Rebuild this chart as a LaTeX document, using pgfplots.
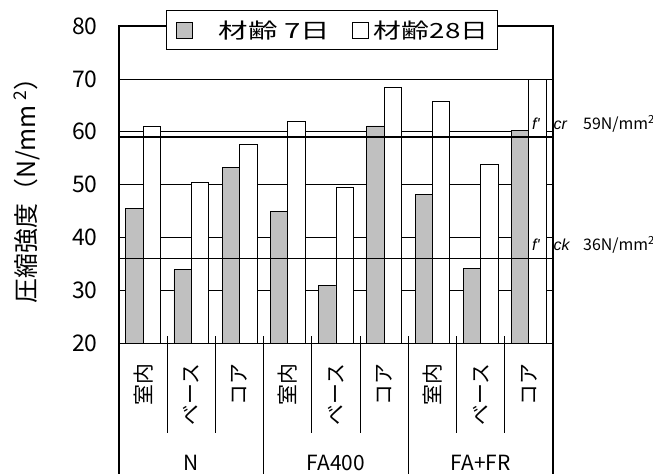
\documentclass[border=0pt]{standalone}
\usepackage{fontspec}
\usepackage{graphicx}
\usepackage{pgfplots}
\usepackage{pgfplotstable}
\pgfplotsset{compat=1.18}
\setmainfont{Noto Sans CJK JP}
\newfontfamily\lsans{Liberation Sans}
\definecolor{barg}{RGB}{192,192,192}

% compressive strength, N/mm^2 (7 days / 28 days)
\pgfplotstableread{
x    d7    d28
0.5  45.5  61.1
1.5  33.9  50.4
2.5  53.2  57.7
3.5  45.0  62.0
4.5  31.0  49.5
5.5  61.1  68.3
6.5  48.1  65.7
7.5  34.2  53.8
8.5  60.3  69.9
}\strength

\pgfplotsset{
  mybar/.style={ybar, bar width=0.36, draw=black, line width=0.8bp,
    legend image code/.code={\draw[##1, line width=0.8bp] (0bp,-8bp) rectangle (16bp,8bp);}},
}

\begin{document}
\begin{tikzpicture}
\begin{axis}[
  at={(0,0)}, anchor=south west,
  scale only axis, width=434bp, height=317.3bp,
  xmin=0, xmax=9, ymin=20, ymax=80,
  clip mode=individual,
  axis line style={black, line width=1.3bp},
  ytick={20,30,...,80},
  ytick pos=left,
  tick align=inside,
  major tick length=9bp,
  y tick style={black, line width=0.7bp},
  ymajorgrids,
  major grid style={black, line width=0.6bp},
  /pgf/number format/assume math mode=true,
  yticklabel style={font=\fontsize{23}{23}\selectfont, xshift=-18bp},
  xtick={0.5,1.5,...,8.5},
  xticklabels={室内,ベース,コア,室内,ベース,コア,室内,ベース,コア},
  x tick style={draw=none},
  xticklabel style={yshift=-17bp, rotate=90, anchor=east, font=\fontsize{21}{21}\selectfont},
  every axis y label/.style={at={(rel axis cs:0,0.5)}, xshift=-92bp, rotate=90, anchor=center},
  ylabel={\fontsize{25}{25}\selectfont 圧縮強度（N/mm\,\textsuperscript{2}）},
  legend columns=2,
  legend style={at={(rel axis cs:0.491,0.9864)}, anchor=center, draw=black,
    line width=0.8bp, fill=white, inner xsep=9bp, inner ysep=10bp,
    font=\fontsize{21}{21}\selectfont, nodes={inner sep=0pt},
    /tikz/every even column/.append style={column sep=22bp}},
]
\addplot[mybar, bar shift=-0.18, fill=barg] table[x=x, y=d7] {\strength};
\addlegendentry{\hspace{26bp}\scalebox{1.41}[1]{材齢 7日}}
\addplot[mybar, bar shift=0.18, fill=white] table[x=x, y=d28] {\strength};
\addlegendentry{\hspace{5bp}\scalebox{1.33}[1]{材齢28日}\hspace{10bp}}

% f'cr and f'ck
\addplot[forget plot, black, line width=1.5bp] coordinates {(0,59) (9,59)};
\addplot[forget plot, black, line width=1.5bp] coordinates {(0,36) (9,36)};

% category separators below the axis
\draw[line width=0.8bp] ([yshift=7bp]axis cs:1,20) -- ([yshift=-90bp]axis cs:1,20);
\draw[line width=0.8bp] ([yshift=7bp]axis cs:2,20) -- ([yshift=-90bp]axis cs:2,20);
\draw[line width=0.8bp] ([yshift=7bp]axis cs:4,20) -- ([yshift=-90bp]axis cs:4,20);
\draw[line width=0.8bp] ([yshift=7bp]axis cs:5,20) -- ([yshift=-90bp]axis cs:5,20);
\draw[line width=0.8bp] ([yshift=7bp]axis cs:7,20) -- ([yshift=-90bp]axis cs:7,20);
\draw[line width=0.8bp] ([yshift=7bp]axis cs:8,20) -- ([yshift=-90bp]axis cs:8,20);
\draw[line width=0.8bp] ([yshift=7bp]axis cs:3,20) -- ([yshift=-132bp]axis cs:3,20);
\draw[line width=0.8bp] ([yshift=7bp]axis cs:6,20) -- ([yshift=-132bp]axis cs:6,20);
\draw[line width=1.3bp] (axis cs:0,20) -- ([yshift=-132bp]axis cs:0,20);
\draw[line width=1.3bp] (axis cs:9,20) -- ([yshift=-132bp]axis cs:9,20);

\node[font=\fontsize{21}{21}\selectfont] at ([yshift=-120bp]axis cs:1.5,20) {N};
\node[font=\fontsize{21}{21}\selectfont] at ([yshift=-120bp]axis cs:4.5,20) {FA400};
\node[font=\fontsize{21}{21}\selectfont] at ([yshift=-120bp]axis cs:7.5,20) {FA+FR};

\node[anchor=base west, inner sep=0pt, font=\lsans\itshape\fontsize{16}{16}\selectfont] at ([xshift=-21bp, yshift=7.5bp]axis cs:9,59) {f'};
\node[anchor=base west, inner sep=0pt, font=\lsans\itshape\fontsize{16}{16}\selectfont] at ([xshift=0.5bp, yshift=7.5bp]axis cs:9,59) {cr};
\node[anchor=base west, inner sep=0pt, font=\fontsize{16}{16}\selectfont] at ([xshift=30bp, yshift=7.5bp]axis cs:9,59) {59N/mm\textsuperscript{2}};
\node[anchor=base west, inner sep=0pt, font=\lsans\itshape\fontsize{16}{16}\selectfont] at ([xshift=-21bp, yshift=8bp]axis cs:9,36) {f'};
\node[anchor=base west, inner sep=0pt, font=\lsans\itshape\fontsize{16}{16}\selectfont] at ([xshift=0.5bp, yshift=8bp]axis cs:9,36) {ck};
\node[anchor=base west, inner sep=0pt, font=\fontsize{16}{16}\selectfont] at ([xshift=30bp, yshift=8bp]axis cs:9,36) {36N/mm\textsuperscript{2}};
\end{axis}
\pgfresetboundingbox
\path (-119bp,-130.7bp) rectangle (534bp,343.3bp);
\end{tikzpicture}
\end{document}
